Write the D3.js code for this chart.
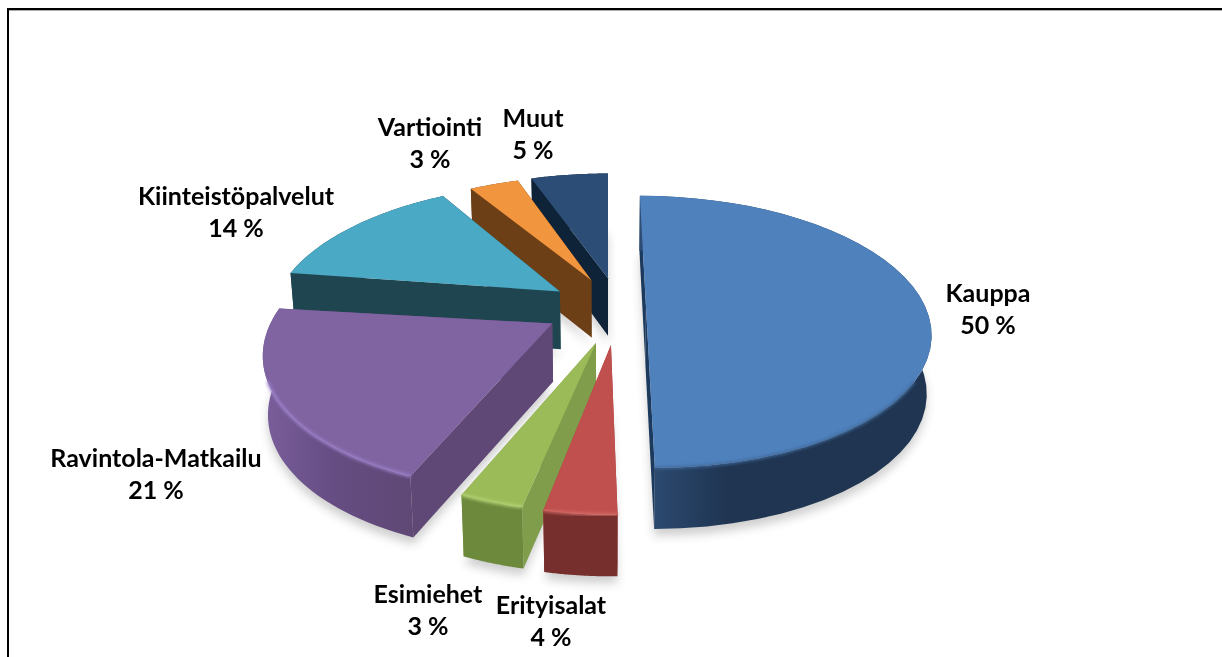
<!DOCTYPE html>
<html>
<head>
<meta charset="utf-8">
<script src="https://cdn.jsdelivr.net/npm/d3@7"></script>
<style>
html, body { margin: 0; padding: 0; background: #fff; overflow: hidden; }
text { font-family: Lato, sans-serif; font-weight: 700; font-size: 25px; fill: #000; }
</style>
</head>
<body>
<svg id="chart" width="1222" height="657"></svg>
<script>
// chart data, clockwise from 12 o'clock (the labels show these rounded)
var categories = ["Kauppa", "Erityisalat", "Esimiehet", "Ravintola-Matkailu", "Kiinteistöpalvelut", "Vartiointi", "Muut"];
var shares = [50, 3.5, 3.1, 20.6, 14.1, 3.4, 5.3];

var topColors = ["#4f81bd", "#c0504d", "#9bbb59", "#8064a2", "#4aa9c4", "#f2953f", "#2c4d75"];
var wallColors = ["#1f3552", "#772f2d", "#6d8a3c", "#5f4875", "#1f4650", "#6d3f17", "#0f2338"];
var innerColors = ["#1c3a5e", "#a8403e", "#7f9d4a", "#5f4875", "#1f4650", "#6d3f17", "#0f2338"];
var rimColors = ["#3f6897", "#d8706c", "#bcd87a", "#a084d0", "#4aa9c4", "#f2953f", "#2c4d75"];

// where each slice was pulled to on the pie plane, its radius and a small turn (degrees)
var pullX = [0.136, 0.01, -0.041, -0.195, -0.176, -0.062, 0];
var pullY = [0, 0.282, 0.268, 0.13, -0.113, -0.205, -0.22];
var radius = [1, 0.94, 0.94, 0.985, 1.03, 1.02, 1.03];
var turn = [0, -1, -0.5, -1.5, 0.5, 0, 0];
// where the labels sit, same order as categories
var labelX = [988, 551, 428, 156, 236, 430, 533];
var labelY = [293, 605, 594, 458, 196, 127, 118];

var cx = 608, cy = 306, R = 279, squash = 0.47, persp = 0.19;

var svg = d3.select("#chart");

// pie plane -> screen, Y runs towards the viewer
function project(x, y) {
    var k = 1 / (1 - persp * y);
    return [cx + R * x * k, cy + R * squash * y * k];
}

// same point on the underside of the slice
function lower(p, y) {
    return [cx + (p[0] - cx) * 0.985, p[1] + 58 + 3 * y];
}

var pie = d3.pie().sort(null).value(function(d) { return d; });
var arcs = pie(shares);
var line = d3.line();

var defs = svg.append("defs");
defs.append("filter").attr("id", "soft").attr("x", "-20%").attr("y", "-20%").attr("width", "140%").attr("height", "140%")
    .append("feGaussianBlur").attr("stdDeviation", 5);
defs.append("filter").attr("id", "rim").attr("x", "-20%").attr("y", "-20%").attr("width", "140%").attr("height", "140%")
    .append("feGaussianBlur").attr("stdDeviation", 1.5);

var kauppaGrad = defs.append("linearGradient").attr("id", "wall0");
kauppaGrad.append("stop").attr("offset", "0").attr("stop-color", "#2e4d75");
kauppaGrad.append("stop").attr("offset", "0.3").attr("stop-color", "#1f3552");
kauppaGrad.append("stop").attr("offset", "1").attr("stop-color", "#1f3552");

var purpleGrad = defs.append("linearGradient").attr("id", "wall3");
purpleGrad.append("stop").attr("offset", "0").attr("stop-color", "#7a5e9c");
purpleGrad.append("stop").attr("offset", "0.45").attr("stop-color", "#664d83");
purpleGrad.append("stop").attr("offset", "1").attr("stop-color", "#5f4875");

var slices = arcs.map(function(a, i) {
    var t0 = a.startAngle + turn[i] * Math.PI / 180;
    var t1 = a.endAngle + turn[i] * Math.PI / 180;

    // outer edge points follow the arc angles from d3.pie
    var plane = d3.range(0, 41).map(function(j) {
        var t = t0 + (t1 - t0) * j / 40;
        return [pullX[i] + radius[i] * Math.sin(t), pullY[i] - radius[i] * Math.cos(t)];
    });
    return { i: i, plane: plane };
});

// back slices first
slices.sort(function(a, b) { return pullY[a.i] - pullY[b.i]; });

var shadowLayer = svg.append("g").attr("filter", "url(#soft)").attr("opacity", 0.28);
var pieLayer = svg.append("g");

slices.forEach(function(s) {
    var i = s.i;
    var apex = project(pullX[i], pullY[i]);
    var apexLow = lower(apex, pullY[i]);
    var rim = s.plane.map(function(p) { return project(p[0], p[1]); });
    var rimLow = rim.map(function(p, j) { return lower(p, s.plane[j][1]); });
    var topFace = [apex].concat(rim);

    shadowLayer.append("path")
        .attr("d", line([apexLow].concat(rimLow)) + "Z")
        .attr("transform", "translate(0,7)")
        .attr("fill", "#555");

    var arcFill = (i == 0 || i == 3) ? "url(#wall" + i + ")" : wallColors[i];
    var walls = [
        { pts: [apex, rim[0], rimLow[0], apexLow], y: (pullY[i] + s.plane[0][1]) / 2, fill: innerColors[i] },
        { pts: [apex, rim[40], rimLow[40], apexLow], y: (pullY[i] + s.plane[40][1]) / 2, fill: innerColors[i] },
        { pts: rim.concat(rimLow.slice().reverse()), y: d3.mean(s.plane, function(p) { return p[1]; }), fill: arcFill }
    ];
    walls.sort(function(a, b) { return a.y - b.y; });

    var g = pieLayer.append("g").attr("class", "slice");
    walls.forEach(function(w) {
        g.append("path")
            .attr("d", line(w.pts) + "Z")
            .attr("fill", w.fill);
    });

    g.append("path")
        .attr("d", line(topFace) + "Z")
        .attr("fill", topColors[i]);

    // light bevel where the top meets the front of the outer wall
    var front = rim.filter(function(p, j) { return s.plane[j][1] > 0.5; });
    if (front.length > 1) {
        g.append("path")
            .attr("d", line(front))
            .attr("fill", "none")
            .attr("stroke", rimColors[i])
            .attr("stroke-width", 2.5)
            .attr("filter", "url(#rim)");
    }
});

// frame, the right and bottom sides run off the picture
svg.append("path")
    .attr("d", "M8,657V9H1222")
    .attr("fill", "none")
    .attr("stroke", "#000")
    .attr("stroke-width", 2);
svg.append("line")
    .attr("x1", 9).attr("x2", 1222)
    .attr("y1", 10.5).attr("y2", 10.5)
    .attr("stroke", "#aaa")
    .attr("stroke-width", 1);

// labels: name above, share below
var labels = svg.append("g").selectAll("g")
    .data(categories)
    .enter()
    .append("g")
    .attr("transform", function(d, i) { return "translate(" + labelX[i] + "," + labelY[i] + ")"; });

labels.append("text")
    .attr("text-anchor", "middle")
    .attr("dy", "0.36em")
    .text(function(d) { return d; });

labels.append("text")
    .attr("text-anchor", "middle")
    .attr("y", 32)
    .attr("dy", "0.36em")
    .text(function(d, i) { return Math.round(shares[i]) + " %"; });
</script>
</body>
</html>
